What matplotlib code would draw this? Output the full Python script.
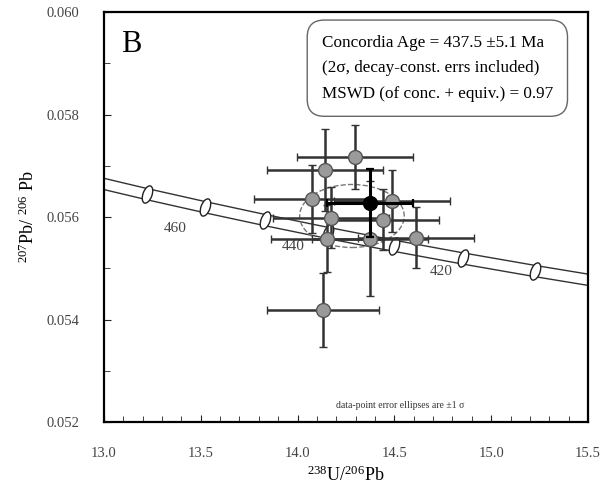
import matplotlib
matplotlib.use("Agg")
import matplotlib.pyplot as plt
from matplotlib.patches import Ellipse
from matplotlib.markers import MarkerStyle
from matplotlib.transforms import Affine2D
from matplotlib.ticker import MultipleLocator

plt.rcParams['font.family'] = ['Liberation Serif', 'DejaVu Serif']
plt.rcParams['mathtext.fontset'] = 'custom'
plt.rcParams['mathtext.rm'] = 'Liberation Serif'
plt.rcParams['mathtext.default'] = 'regular'

# concordia nodes (Ma) and their Tera-Wasserburg coordinates
conc_age = [480, 470, 460, 450, 440, 430, 420, 410, 400]
conc_x = [12.936, 13.222, 13.520, 13.831, 14.157, 14.497, 14.854, 15.228, 15.621]
conc_y = [0.056703, 0.056447, 0.056194, 0.055941, 0.055689, 0.055440, 0.055191, 0.054945, 0.054701]
env_half = 0.00011

tick_labels = ['460', '440', '420']
tick_lab_x = [13.37, 13.98, 14.74]
tick_lab_y = [0.05578, 0.05543, 0.05493]

# analyses: 238U/206Pb, 207Pb/206Pb and errors
u_pb = [14.297, 14.142, 14.074, 14.488, 14.172, 14.441, 14.152, 14.374, 14.611, 14.131]
pb_pb = [0.05717, 0.05691, 0.05635, 0.05631, 0.05599, 0.05595, 0.05558, 0.05558, 0.05560, 0.05419]
u_err = [0.30, 0.30, 0.30, 0.30, 0.30, 0.29, 0.29, 0.30, 0.30, 0.29]
pb_err = [0.00062, 0.00080, 0.00066, 0.00060, 0.00060, 0.00059, 0.00066, 0.00113, 0.00059, 0.00072]

# black point
blk_x = [14.374]
blk_y = [0.05627]
blk_xerr = [0.22]
blk_yerr = [0.00066]

# mean ellipse
ell_x, ell_y = 14.281, 0.05602
ell_w, ell_h = 0.54, 0.00123

fig = plt.figure(figsize=(6.04, 4.91), dpi=100)
ax = fig.add_axes([0.172, 0.1405, 0.8015, 0.835])

upper = [v + env_half for v in conc_y]
lower = [v - env_half for v in conc_y]
ax.plot(conc_x, upper, color='#333333', lw=1.0, zorder=2)
ax.plot(conc_x, lower, color='#333333', lw=1.0, zorder=2)

tick_mark = MarkerStyle('o', transform=Affine2D().scale(0.5, 1.0).rotate_deg(-20))
ax.plot(conc_x[1:8], conc_y[1:8], ls='none', marker=tick_mark, ms=13,
        mfc='white', mec='#222222', mew=1.0, zorder=3)

for lab, lx, ly in zip(tick_labels, tick_lab_x, tick_lab_y):
    ax.text(lx, ly, lab, fontsize=11, color='#444444', ha='center', va='center')

ax.add_patch(Ellipse((ell_x, ell_y), ell_w, ell_h, fill=False, ls='--',
                     ec='#777777', lw=1.0, zorder=2.5))

ax.errorbar(u_pb, pb_pb, xerr=u_err, yerr=pb_err, fmt='o', ms=10,
            mfc='#9a9a9a', mec='#555555', mew=1.0,
            ecolor='#333333', elinewidth=1.8, capsize=3, capthick=1.6, zorder=4)
ax.errorbar(blk_x, blk_y, xerr=blk_xerr, yerr=blk_yerr, fmt='o', ms=10,
            mfc='black', mec='black', ecolor='black',
            elinewidth=2.2, capsize=3, capthick=1.6, zorder=5)

ax.set_xlim(13.0, 15.5)
ax.set_ylim(0.052, 0.060)
ax.xaxis.set_major_locator(MultipleLocator(0.5))
ax.xaxis.set_minor_locator(MultipleLocator(0.1))
ax.yaxis.set_major_locator(MultipleLocator(0.002))
ax.yaxis.set_minor_locator(MultipleLocator(0.001))
ax.xaxis.set_major_formatter(plt.FuncFormatter(lambda v, p: f'{v:.1f}'))
ax.yaxis.set_major_formatter(plt.FuncFormatter(lambda v, p: f'{v:.3f}'))
ax.tick_params(which='both', direction='in', top=False, right=False,
               labelsize=10.5, colors='#222222', labelcolor='#444444', pad=18)
ax.tick_params(which='major', length=5)
ax.tick_params(which='minor', length=4)
for sp in ax.spines.values():
    sp.set_linewidth(1.6)

ax.set_xlabel('$^{238}$U/$^{206}$Pb', fontsize=13, labelpad=4)
ax.set_ylabel('$^{207}$Pb/ $^{206}$ Pb', fontsize=13, labelpad=6)

ax.text(0.035, 0.955, 'B', transform=ax.transAxes, fontsize=22,
        ha='left', va='top')
ax.text(0.450, 0.945,
        'Concordia Age = 437.5 ±5.1 Ma\n(2σ, decay-const. errs included)\nMSWD (of conc. + equiv.) = 0.97',
        transform=ax.transAxes, fontsize=12.3, ha='left', va='top', linespacing=1.8,
        bbox=dict(boxstyle='round,pad=0.85,rounding_size=1.0', fc='white', ec='#666666', lw=1.0))
ax.text(14.53, 0.05233, 'data-point error ellipses are ±1 σ', fontsize=7,
        ha='center', va='center', color='#333333')

fig.savefig('out.png', dpi=100)
